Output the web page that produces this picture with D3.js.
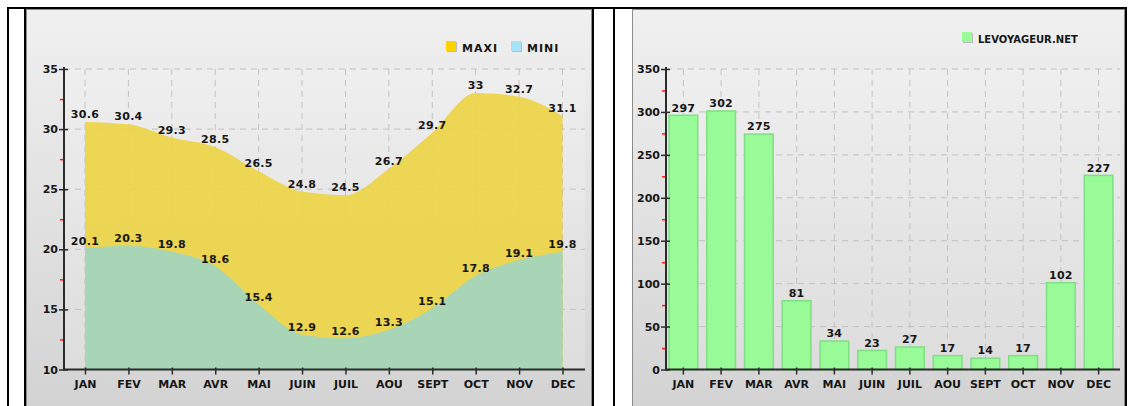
<!DOCTYPE html>
<html>
<head>
<meta charset="utf-8">
<script src="https://cdn.jsdelivr.net/npm/d3@7"></script>
<style>
  html, body { margin: 0; padding: 0; background: #fff; }
  svg { display: block; }
  text { font-family: "DejaVu Sans", Verdana, sans-serif; font-weight: bold; fill: #161616; }
</style>
</head>
<body>
<svg id="chart" width="1132" height="406"></svg>
<script>
// Monthly climate data
const months = ["JAN", "FEV", "MAR", "AVR", "MAI", "JUIN", "JUIL", "AOU", "SEPT", "OCT", "NOV", "DEC"];
const tempMax = [30.6, 30.4, 29.3, 28.5, 26.5, 24.8, 24.5, 26.7, 29.7, 33, 32.7, 31.1];
const tempMin = [20.1, 20.3, 19.8, 18.6, 15.4, 12.9, 12.6, 13.3, 15.1, 17.8, 19.1, 19.8];
const rainfall = [297, 302, 275, 81, 34, 23, 27, 17, 14, 17, 102, 227];
const tempTicks = [10, 15, 20, 25, 30, 35];
const tempMinorTicks = [12.5, 17.5, 22.5, 27.5, 32.5];
const rainTicks = [0, 50, 100, 150, 200, 250, 300, 350];
const rainMinorTicks = [25, 75, 125, 175, 225, 275, 325];
const tempLegend = ["MAXI", "MINI"];
const rainLegend = ["LEVOYAGEUR.NET"];

const svg = d3.select("#chart");

// background gradient of both panels
const defs = svg.append("defs");
const grad = defs.append("linearGradient").attr("id", "panelBg")
  .attr("gradientUnits", "userSpaceOnUse").attr("x1", 0).attr("y1", 9).attr("x2", 0).attr("y2", 420);
grad.append("stop").attr("offset", 0).attr("stop-color", "#f0f0f0");
grad.append("stop").attr("offset", 1).attr("stop-color", "#d2d2d2");

// panels
svg.append("rect").attr("x", 26.5).attr("y", 9.5).attr("width", 565).attr("height", 410)
  .attr("fill", "url(#panelBg)").attr("stroke", "#8c8c8c");
svg.append("rect").attr("x", 632.5).attr("y", 9.5).attr("width", 492).attr("height", 410)
  .attr("fill", "url(#panelBg)").attr("stroke", "#8c8c8c");

// table frame
svg.append("rect").attr("x", 7).attr("y", 7).attr("width", 1120).attr("height", 2).attr("fill", "#000");
[7, 24, 592, 613, 1125].forEach(x => {
  svg.append("rect").attr("x", x).attr("y", 7).attr("width", 2).attr("height", 400).attr("fill", "#000");
});

const gridColor = "#c2c2c2";
const axisColor = "#2b2b2b";

function gridAndAxes(g, cfg) {
  const { y, xs, ax, xEnd, top, bottom, ticks, minor, xAxis } = cfg;
  g.append("rect").attr("x", ax).attr("y", top).attr("width", xEnd - ax).attr("height", bottom - top)
    .attr("fill", "#fff").attr("opacity", 0.18);
  g.append("g").selectAll("line").data(ticks.slice(1)).join("line")
    .attr("x1", ax).attr("x2", xEnd).attr("y1", d => y(d)).attr("y2", d => y(d))
    .attr("stroke", gridColor).attr("stroke-dasharray", "6,5");
  g.append("g").selectAll("line").data(xs).join("line")
    .attr("x1", d => d).attr("x2", d => d).attr("y1", top).attr("y2", bottom)
    .attr("stroke", gridColor).attr("stroke-dasharray", "6,5");
}

function drawAxes(g, cfg) {
  const { y, ax, xEnd, top, bottom, ticks, minor, xAxis } = cfg;
  // y axis
  const ya = g.append("g").attr("transform", `translate(${ax},0)`)
    .call(d3.axisLeft(y).tickValues(ticks).tickSize(5).tickPadding(1).tickFormat(d3.format("d")));
  ya.select(".domain").remove();
  ya.selectAll(".tick line").attr("stroke", axisColor).attr("stroke-width", 1.5).attr("x2", -5).attr("x1", 4);
  ya.selectAll(".tick text").attr("font-size", 11).attr("font-family", null).attr("fill", "#161616");
  const ym = g.append("g").attr("transform", `translate(${ax},0)`)
    .call(d3.axisLeft(y).tickValues(minor).tickSize(4).tickFormat(""));
  ym.select(".domain").remove();
  ym.selectAll(".tick line").attr("stroke", "#ff1a1a").attr("stroke-width", 1.5);
  g.append("line").attr("x1", ax).attr("x2", ax).attr("y1", top - 2).attr("y2", bottom + 1)
    .attr("stroke", axisColor).attr("stroke-width", 2);
  // x axis
  const xa = g.append("g").attr("transform", `translate(0,${bottom})`)
    .call(xAxis.tickSize(5).tickPadding(6));
  xa.select(".domain").remove();
  xa.selectAll(".tick line").attr("stroke", axisColor).attr("stroke-width", 1.5).attr("y1", -2);
  xa.selectAll(".tick text").attr("font-size", 11).attr("font-family", null).attr("fill", "#161616");
  g.append("line").attr("x1", ax).attr("x2", xEnd).attr("y1", bottom).attr("y2", bottom)
    .attr("stroke", axisColor).attr("stroke-width", 2);
}

function legendItem(g, x, y, color, label, size) {
  g.append("rect").attr("x", x + 1).attr("y", y + 1).attr("width", 10).attr("height", 10).attr("fill", "#9a9a9a").attr("opacity", 0.6);
  g.append("rect").attr("x", x).attr("y", y).attr("width", 10).attr("height", 10).attr("fill", color);
  g.append("text").attr("x", x + 16).attr("y", y + 10.5).attr("font-size", size)
    .attr("letter-spacing", size > 10 ? 1 : 0).text(label);
}

// ---- temperature panel ----
const gT = svg.append("g");
const yT = d3.scaleLinear().domain([10, 35]).range([369.5, 69]);
const xT = d3.scalePoint().domain(months).range([85, 562.5]);
const cfgT = { y: yT, xs: months.map(m => xT(m)), ax: 64, xEnd: 585, top: 69, bottom: 369.5,
  ticks: tempTicks, minor: tempMinorTicks, xAxis: d3.axisBottom(xT) };
gridAndAxes(gT, cfgT);

const areaOf = vals => d3.area()
  .x((d, i) => xT(months[i]))
  .y0(yT(10))
  .y1(d => yT(d))
  .curve(d3.curveMonotoneX)(vals);

gT.append("path").attr("d", areaOf(tempMax)).attr("fill", "#edd447").attr("opacity", 0.93);
gT.append("path").attr("d", areaOf(tempMin)).attr("fill", "#a1d5bc").attr("opacity", 0.93);

gT.append("g").selectAll("text").data(tempMax).join("text")
  .attr("x", (d, i) => xT(months[i])).attr("y", d => yT(d) - 4)
  .attr("text-anchor", "middle").attr("font-size", 11).attr("letter-spacing", 0.3)
  .text(d => d);
gT.append("g").selectAll("text").data(tempMin).join("text")
  .attr("x", (d, i) => xT(months[i])).attr("y", d => yT(d) - 3.5)
  .attr("text-anchor", "middle").attr("font-size", 11).attr("letter-spacing", 0.3)
  .text(d => d);

drawAxes(gT, cfgT);
legendItem(gT, 446, 41, "#ffd200", tempLegend[0], 11);
legendItem(gT, 511, 41, "#a6e2f8", tempLegend[1], 11);

// ---- rainfall panel ----
const gR = svg.append("g");
const yR = d3.scaleLinear().domain([0, 350]).range([369.5, 69]);
const xR = d3.scaleBand().domain(months).range([664.5, 1117.5]).paddingInner(0.2).paddingOuter(0.1);
const cfgR = { y: yR, xs: months.map(m => xR(m) + xR.bandwidth() / 2), ax: 666, xEnd: 1120, top: 69, bottom: 369.5,
  ticks: rainTicks, minor: rainMinorTicks, xAxis: d3.axisBottom(xR) };
gridAndAxes(gR, cfgR);

gR.append("g").selectAll("rect").data(rainfall).join("rect")
  .attr("x", (d, i) => xR(months[i]) + 0.75)
  .attr("y", d => yR(d) + 0.75)
  .attr("width", xR.bandwidth() - 1.5)
  .attr("height", d => yR(0) - yR(d) - 0.75)
  .attr("fill", "#98fb98").attr("stroke", "#7fdf84").attr("stroke-width", 1.5);

gR.append("g").selectAll("text").data(rainfall).join("text")
  .attr("x", (d, i) => xR(months[i]) + xR.bandwidth() / 2).attr("y", d => yR(d) - 3)
  .attr("text-anchor", "middle").attr("font-size", 11).attr("letter-spacing", 0.3)
  .text(d => d);

drawAxes(gR, cfgR);
legendItem(gR, 962, 32, "#98fb98", rainLegend[0], 10);
</script>
</body>
</html>
